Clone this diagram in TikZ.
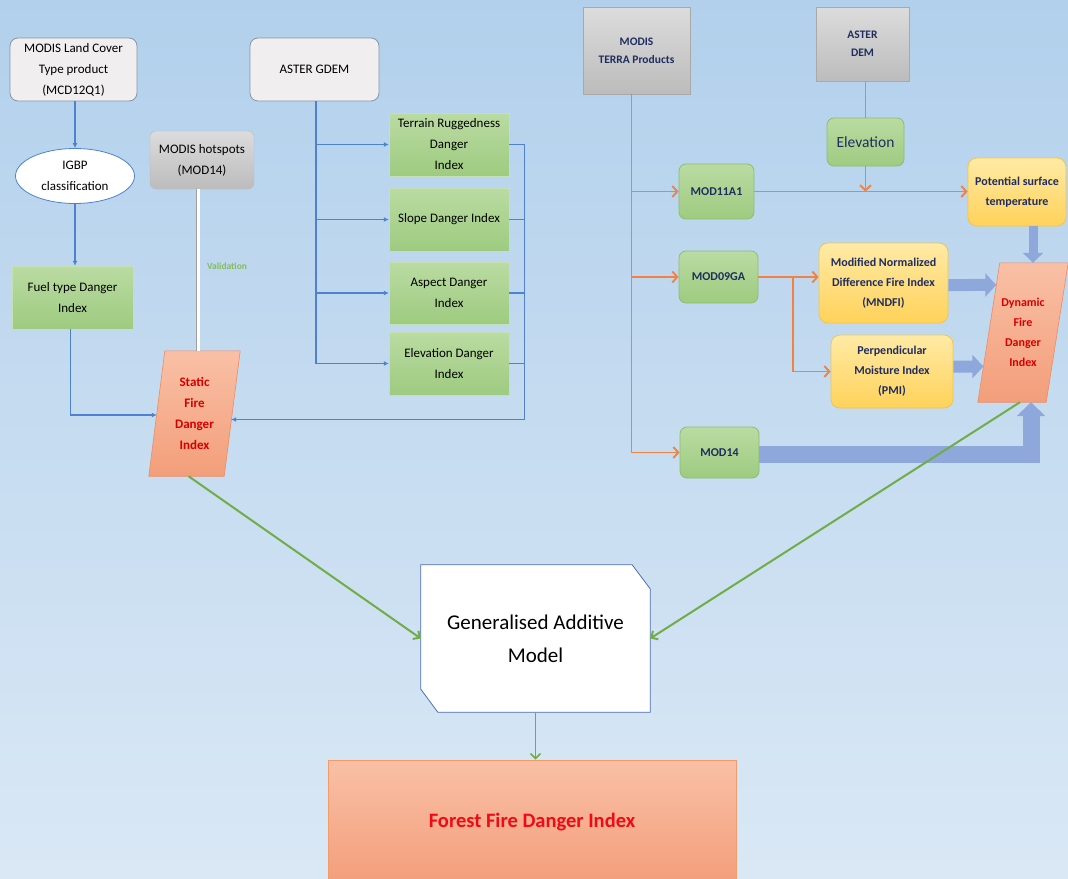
\documentclass[tikz,border=0pt]{standalone}
\usepackage{fontspec}
\setmainfont{Carlito}
\usetikzlibrary{arrows.meta,shapes.geometric,calc,backgrounds}
\newcommand\fsA{\fontsize{13}{21}\selectfont}
\newcommand\fsC{\fontsize{11.5}{18}\selectfont}
\newcommand\fsD{\fontsize{12}{20}\selectfont}
\newcommand\fsE{\fontsize{15.5}{18}\selectfont}
\newcommand\fsG{\fontsize{21}{33}\selectfont}
\newcommand\fsF{\fontsize{20.5}{24}\selectfont}
\newcommand\fsV{\fontsize{9.5}{11}\selectfont}
\definecolor{bgtop}{RGB}{178,208,236}
\definecolor{bgbot}{RGB}{218,232,245}
\definecolor{bluel}{RGB}{79,129,209}
\definecolor{orangel}{RGB}{240,130,70}
\definecolor{greenl}{RGB}{112,173,71}
\definecolor{navy}{RGB}{31,45,96}
\definecolor{firered}{RGB}{214,0,0}
\definecolor{ffred}{RGB}{240,10,20}
\definecolor{greenT}{RGB}{186,219,162}
\definecolor{greenB}{RGB}{158,203,128}
\definecolor{greenE}{RGB}{140,190,110}
\definecolor{yelT}{RGB}{255,234,165}
\definecolor{yelB}{RGB}{255,210,90}
\definecolor{yelE}{RGB}{242,198,72}
\definecolor{lgray}{RGB}{240,238,238}
\definecolor{grayE}{RGB}{130,150,176}
\definecolor{dgrayT}{RGB}{220,220,220}
\definecolor{dgrayB}{RGB}{188,188,188}
\definecolor{salT}{RGB}{249,192,166}
\definecolor{salB}{RGB}{243,158,122}
\definecolor{salE}{RGB}{236,140,100}
\definecolor{fatC}{RGB}{143,168,220}
\definecolor{gamE}{RGB}{80,110,176}
\definecolor{validC}{RGB}{130,190,90}
\begin{document}
\begin{tikzpicture}[x=1pt,y=-1pt,
  every node/.style={align=center, inner sep=0pt},
  graybox/.style={draw=grayE, line width=0.8pt, fill=lgray, rounded corners=8pt, font=\fsA},
  ovalbox/.style={ellipse, draw=bluel, line width=0.8pt, fill=white, font=\fsA},
  greenbox/.style={top color=greenT, bottom color=greenB, draw=greenE!50, line width=0.4pt, font=\fsA},
  hotbox/.style={top color=dgrayT, bottom color=dgrayB, draw=dgrayB, rounded corners=6pt, font=\fsA},
  srcbox/.style={top color=dgrayT, bottom color=dgrayB, draw=dgrayB!90!black, line width=0.4pt, font=\fsC\bfseries, text=navy},
  modbox/.style={top color=greenT, bottom color=greenB, draw=greenE, line width=0.8pt, rounded corners=7pt, font=\fsD\bfseries, text=navy},
  yelbox/.style={top color=yelT, bottom color=yelB, draw=yelE, line width=0.8pt, rounded corners=9pt, font=\fsD\bfseries, text=navy},
  blueconn/.style={draw=bluel, line width=1.3pt, -{Latex[length=5pt,width=5pt]}},
  blueplain/.style={draw=bluel, line width=1.3pt},
  orangeconn/.style={draw=orangel, line width=1.9pt, -{Straight Barb[length=5pt,width=11pt]}},
  orangeplain/.style={draw=orangel, line width=1.9pt},
  greenconn/.style={draw=greenl, line width=2pt, -{Straight Barb[length=5pt,width=10pt]}},
  fatconn/.style={draw=fatC, line join=miter},
  salshape/.style={top color=salT, bottom color=salB, draw=salE, line width=0.6pt}
]
\useasboundingbox (0,0) rectangle (1068,878);

% ---------- left part ----------
\node[graybox, minimum width=127, minimum height=63] (lc) at (73.5,69.5) {MODIS Land Cover\\Type product\\(MCD12Q1)};
\node[ovalbox, minimum width=119, minimum height=55] (igbp) at (75,176) {IGBP\\classification};
\node[greenbox, minimum width=121, minimum height=63] (fuel) at (72.5,297.5) {Fuel type Danger\\Index};
\node[hotbox, minimum width=104, minimum height=58] (hot) at (202,160) {MODIS hotspots\\(MOD14)};
\node[graybox, minimum width=129, minimum height=63] (gdem) at (314.5,69.5) {ASTER GDEM};
\node[greenbox, minimum width=120, minimum height=63] (trdi) at (449,144.5) {Terrain Ruggedness\\Danger\\Index};
\node[greenbox, minimum width=120, minimum height=63] (sdi) at (449,219.5) {Slope Danger Index};
\node[greenbox, minimum width=120, minimum height=62] (adi) at (449,293) {Aspect Danger\\Index};
\node[greenbox, minimum width=120, minimum height=63] (edi) at (449,363.5) {Elevation Danger\\Index};
\node[minimum width=91, minimum height=125, font=\fsA\bfseries, text=firered] (sfdi) at (194.5,413.5) {Static\\Fire\\Danger\\Index};
\node[font=\fsV\bfseries, text=validC] (valid) at (227,266) {Validation};

% ---------- right part ----------
\node[srcbox, minimum width=107, minimum height=87] (terra) at (636.5,50.5) {MODIS\\TERRA Products};
\node[srcbox, minimum width=93, minimum height=74] (dem) at (862.5,44) {ASTER\\DEM};
\node[modbox, font=\fsE, minimum width=77, minimum height=48] (elev) at (865.5,142) {Elevation};
\node[modbox, minimum width=75, minimum height=55] (mod11) at (716.5,191.5) {MOD11A1};
\node[yelbox, minimum width=98, minimum height=68] (pst) at (1017,192) {Potential surface\\temperature};
\node[modbox, minimum width=79, minimum height=52] (mod09) at (718.5,277) {MOD09GA};
\node[yelbox, minimum width=129, minimum height=80] (mndfi) at (883.5,283) {Modified Normalized\\Difference Fire Index\\(MNDFI)};
\node[yelbox, minimum width=122, minimum height=73] (pmi) at (892,371.5) {Perpendicular\\Moisture Index\\(PMI)};
\node[modbox, minimum width=79, minimum height=51] (mod14) at (719.5,452.5) {MOD14};
\node[minimum width=90, minimum height=139, font=\fsD\bfseries, text=firered] (dfdi) at (1023,332.5) {Dynamic\\Fire\\Danger\\Index};

% ---------- bottom ----------
\node[minimum width=229, minimum height=147, font=\fsG] (gam) at (535.5,638.5) {Generalised Additive\\Model};
\node[top color=salT, bottom color=salB, draw=orangel!80, line width=0.6pt, minimum width=408, minimum height=124, font=\fsF\bfseries, text=ffred] (ffdi) at (532,822) {Forest Fire Danger Index};

% ---------- shapes behind text ----------
\coordinate (dTL) at ([xshift=22]dfdi.north west);
\begin{scope}[on background layer]
  \shade[top color=bgtop, bottom color=bgbot] (0,0) rectangle (1068,878);
  \path[salshape] ([xshift=16]sfdi.north west) -- (sfdi.north east) -- ([xshift=-16]sfdi.south east) -- (sfdi.south west) -- cycle;
  \path[salshape] (dTL) -- (dfdi.north east) -- ([xshift=-22]dfdi.south east) -- (dfdi.south west) -- cycle;
  \draw[fill=white, draw=gamE, line width=0.8pt] (gam.north west) -- ([xshift=-18]gam.north east) -- ([yshift=-24]gam.north east) -- (gam.south east) -- ([xshift=17]gam.south west) -- ([yshift=23]gam.south west) -- cycle;
\end{scope}

% ---------- blue connectors (left) ----------
\draw[blueconn] ([xshift=1.5]lc.south) -- ([xshift=1.5]lc.south |- igbp.north);
\draw[blueconn] (igbp.south) -- (igbp.south |- fuel.north);
\draw[blueconn] ([xshift=-2]fuel.south) |- ([xshift=8,yshift=-1.5]sfdi.west);
\draw[blueconn] ([xshift=1.5]gdem.south) |- (trdi.west);
\draw[blueconn] ([xshift=1.5]gdem.south) |- (sdi.west);
\draw[blueconn] ([xshift=1.5]gdem.south) |- (adi.west);
\draw[blueconn] ([xshift=1.5]gdem.south) |- (edi.west);
\draw[blueplain] (sdi.east) -- ++(15,0);
\draw[blueplain] (adi.east) -- ++(15,0);
\draw[blueplain] (edi.east) -- ++(15,0);
\draw[blueconn] (trdi.east) -- ++(15,0) |- ([xshift=-9,yshift=-6]sfdi.east);
\draw[draw=gray!75, double=white, double distance=3pt, line width=0.9pt] ([xshift=-4]hot.south) -- ([xshift=-4]hot.south |- sfdi.north);

% ---------- orange connectors (right) ----------
\coordinate (trunk) at ([xshift=-5]terra.south);
\draw[orangeconn] (trunk) |- (mod14.west);
\draw[orangeconn] (trunk |- mod11.west) -- (mod11.west);
\draw[orangeconn] (trunk |- mod09.west) -- (mod09.west);
\draw[orangeconn] (mod11.east) -- (mod11.east -| pst.west);
\draw[orangeplain] (elev.north |- dem.south) -- (elev.north);
\draw[orangeconn] (elev.south) -- (elev.south |- mod11.east);
\draw[orangeconn] (mod09.east) -- (mod09.east -| mndfi.west);
\draw[orangeconn] ([xshift=35]mod09.east) |- (pmi.west);

% ---------- fat arrows ----------
\coordinate (mS) at ([yshift=-2]mndfi.east);
\coordinate (mA) at (mS -| dfdi.east);
\coordinate (pS) at ([yshift=5]pmi.east);
\coordinate (pA) at (pS -| dfdi.east);
\draw[fatconn, line width=9pt, -{Triangle[width=20pt,length=10pt]}] ([xshift=16]pst.south) -- ([xshift=16]pst.south |- dfdi.north);
\draw[fatconn, line width=12pt, -{Triangle[width=23pt,length=11pt]}] (mS) -- (intersection of dfdi.south west--dTL and mS--mA);
\draw[fatconn, line width=12pt, -{Triangle[width=23pt,length=11pt]}] (pS) -- (intersection of dfdi.south west--dTL and pS--pA);
\draw[fatconn, line width=17pt, -{Triangle[width=28pt,length=14pt]}] ([yshift=-2]mod14.east) -| ([xshift=8]dfdi.south);

% ---------- green connectors ----------
\draw[greenconn] ([xshift=-6]sfdi.south) -- (gam.west);
\draw[greenconn] ([xshift=-3]dfdi.south) -- (gam.east);
\draw[greenconn, line width=1.6pt] (gam.south) -- (gam.south |- ffdi.north);
\end{tikzpicture}
\end{document}
